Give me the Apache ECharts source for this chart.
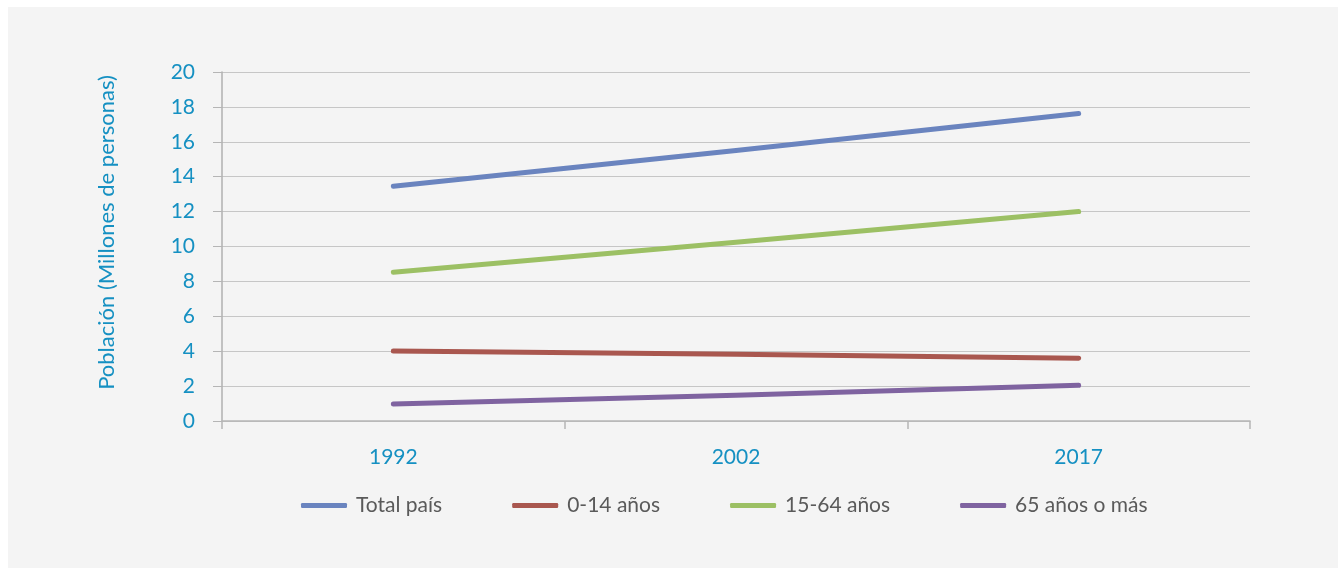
<!DOCTYPE html>
<html>
<head>
<meta charset="utf-8">
<script src="https://cdn.jsdelivr.net/npm/echarts@6/dist/echarts.min.js"></script>
<style>
html,body{margin:0;padding:0;background:#ffffff;}
#chart{position:absolute;left:8px;top:7px;width:1330px;height:561px;background:#f4f4f4;}
</style>
</head>
<body>
<div id="chart"></div>
<script>
var categories = ['1992', '2002', '2017'];
var seriesNames = ['Total país', '0-14 años', '15-64 años', '65 años o más'];
var totalPais = [13.45, 15.5, 17.62];
var edad0a14 = [4.01, 3.82, 3.6];
var edad15a64 = [8.52, 10.24, 12.0];
var edad65mas = [0.97, 1.47, 2.05];
var yTicks = [0, 2, 4, 6, 8, 10, 12, 14, 16, 18, 20];
var colors = ['#6a84bf', '#a9574f', '#9cc064', '#7f63a0'];

var font = 'Lato, "Open Sans", sans-serif';
var blue = '#1590c2';

var chart = echarts.init(document.getElementById('chart'));
var dataSets = [totalPais, edad0a14, edad15a64, edad65mas];
chart.setOption({
  backgroundColor: '#f4f4f4',
  animation: false,
  color: colors,
  grid: { left: 214, right: 88, top: 65, bottom: 147, containLabel: false },
  legend: {
    left: 288, top: 483,
    itemWidth: 46, itemHeight: 5, itemGap: 70,
    icon: 'roundRect',
    textStyle: { fontFamily: font, fontSize: 21, color: '#5a5a5a', padding: [0, 0, 0, 4] },
    data: seriesNames
  },
  xAxis: {
    type: 'category',
    data: categories,
    boundaryGap: true,
    axisLine: { lineStyle: { color: '#b5b5b5', width: 1.5 } },
    axisTick: { show: true, length: 8, lineStyle: { color: '#b5b5b5', width: 1.5 }, alignWithLabel: false },
    axisLabel: { fontFamily: font, fontSize: 21, color: blue, margin: 26 }
  },
  yAxis: {
    type: 'value',
    min: yTicks[0], max: yTicks[yTicks.length - 1], interval: 2,
    name: 'Población (Millones de personas)',
    nameLocation: 'middle',
    nameGap: 104,
    nameTextStyle: { fontFamily: font, fontSize: 22, color: blue, padding: [0, 0, 0, 28] },
    axisLine: { show: true, lineStyle: { color: '#b0b0b0', width: 1.5 } },
    axisTick: { show: true, length: 9, lineStyle: { color: '#b5b5b5' } },
    axisLabel: { fontFamily: font, fontSize: 21, color: blue, margin: 27 },
    splitLine: { lineStyle: { color: '#c6c6c6', width: 1 } }
  },
  series: seriesNames.map(function (n, i) {
    return {
      name: n, type: 'line', data: dataSets[i],
      showSymbol: false, symbol: 'none',
      lineStyle: { width: 5, cap: 'round', join: 'round', color: colors[i] },
      itemStyle: { color: colors[i] }
    };
  })
});
</script>
</body>
</html>
